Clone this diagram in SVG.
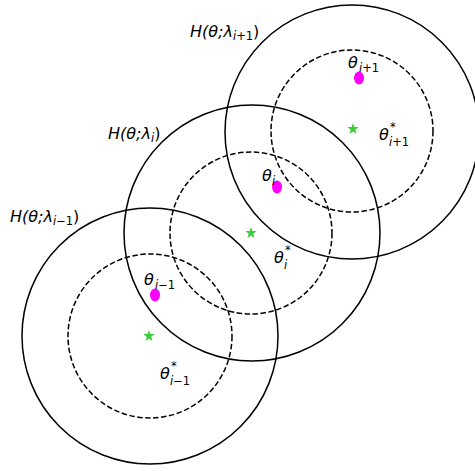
<svg xmlns="http://www.w3.org/2000/svg" width="475" height="471" viewBox="0 0 475 471">
<defs>
<style>
.s{fill:none;stroke:#000;stroke-width:1.5}
.d{fill:none;stroke:#000;stroke-width:1.5;stroke-dasharray:5.5,2.5}
.m{fill:#ff00ff}
.g{fill:#3ccc3c}
text{font-family:"DejaVu Sans",sans-serif;font-style:italic;fill:#000}
.t{font-size:16px}
.u{font-size:11.5px}
.n{font-style:normal}
</style>
<polygon id="star" points="0,-6 1.4,-1.9 5.7,-1.9 2.3,0.7 3.5,4.9 0,2.4 -3.5,4.9 -2.3,0.7 -5.7,-1.9 -1.4,-1.9"/>
</defs>
<rect width="475" height="471" fill="#fff"/>
<g id="top">
<circle class="s" cx="352" cy="132" r="127"/>
<circle class="d" cx="352" cy="131" r="81"/>
<use href="#star" x="353" y="129" class="g"/>
<ellipse class="m" cx="359" cy="78" rx="5" ry="6.5"/>
<text class="t" x="190" y="37">H(θ;λ<tspan class="u" dy="3">i<tspan class="n">+1</tspan></tspan><tspan dy="-3" class="n">)</tspan></text>
<text class="t" x="348" y="68">θ</text><text class="u" x="359" y="72">i<tspan class="n">+1</tspan></text>
<text class="t" x="379" y="140">θ</text><text class="u n" x="390" y="131">*</text><text class="u" x="389" y="146">i<tspan class="n">+1</tspan></text>
</g>
<g id="middle">
<circle class="s" cx="252" cy="233" r="128"/>
<circle class="d" cx="251" cy="233" r="81"/>
<use href="#star" x="251" y="233" class="g"/>
<ellipse class="m" cx="277" cy="187" rx="5" ry="6.5"/>
<text class="t" x="108" y="139">H(θ;λ<tspan class="u" dy="3">i</tspan><tspan dy="-3" class="n">)</tspan></text>
<text class="t" x="262" y="181">θ</text><text class="u" x="272" y="185">i</text>
<text class="t" x="274" y="263">θ</text><text class="u n" x="285" y="254">*</text><text class="u" x="284" y="269">i</text>
</g>
<g id="bottom">
<circle class="s" cx="150" cy="336" r="128"/>
<circle class="d" cx="150" cy="336" r="82"/>
<use href="#star" x="149" y="336" class="g"/>
<ellipse class="m" cx="155" cy="295" rx="5" ry="6.5"/>
<text class="t" x="10" y="222">H(θ;λ<tspan class="u" dy="3">i<tspan class="n">−1</tspan></tspan><tspan dy="-3" class="n">)</tspan></text>
<text class="t" x="144" y="285">θ</text><text class="u" x="155" y="289">i<tspan class="n">−1</tspan></text>
<text class="t" x="160" y="379">θ</text><text class="u n" x="171" y="370">*</text><text class="u" x="170" y="385">i<tspan class="n">−1</tspan></text>
</g>
</svg>
